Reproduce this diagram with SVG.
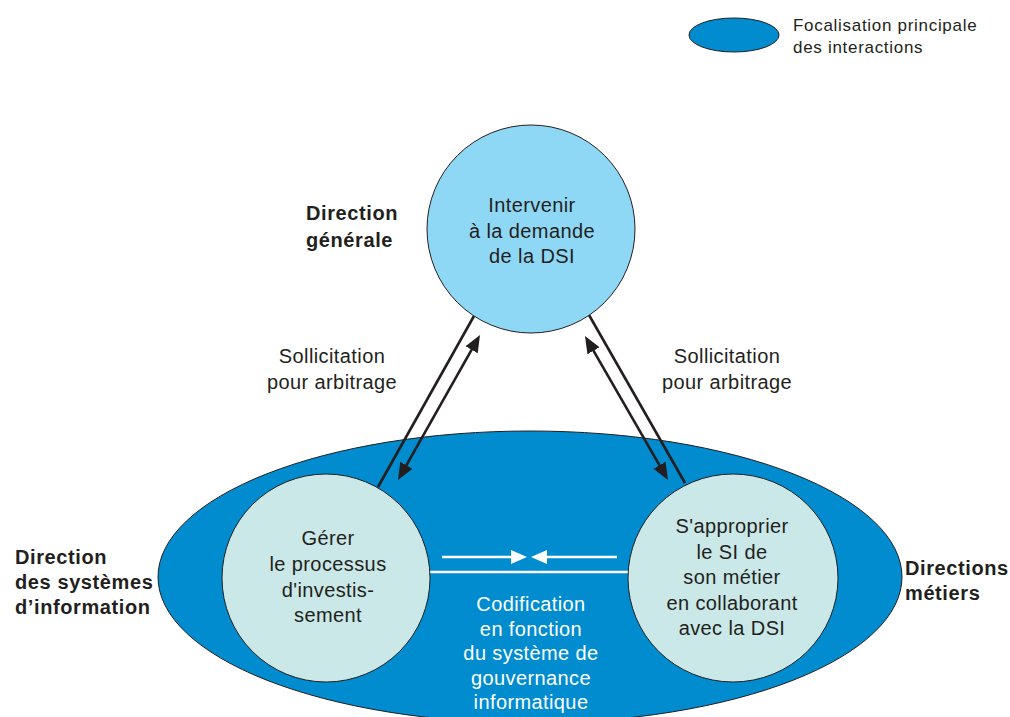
<svg xmlns="http://www.w3.org/2000/svg" width="1010" height="717" viewBox="0 0 1010 717">
  <defs>
    <style>
      .t { font-family: "Liberation Sans", Arial, sans-serif; font-size: 20px; fill: #231f20; letter-spacing: 0.4px; }
      .b { font-family: "Liberation Sans", Arial, sans-serif; font-size: 20px; font-weight: bold; fill: #231f20; letter-spacing: 0.6px; }
      .lg { font-size: 17px; letter-spacing: 0.7px; }
      .w { fill: #ffffff; }
      .c { text-anchor: middle; }
      .focus { fill: #008ccf; stroke: #231f20; stroke-width: 1; }
      .top { fill: #8fd8f5; stroke: #231f20; stroke-width: 1; }
      .inner { fill: #c9e8e7; stroke: #231f20; stroke-width: 1; }
      .dark { stroke: #231f20; stroke-width: 2.6; fill: none; }
      .light { stroke: #ffffff; stroke-width: 2.6; fill: none; }
    </style>
    <marker id="ahDark" markerUnits="userSpaceOnUse" markerWidth="20" markerHeight="16" viewBox="0 -8 20 16" refX="3" refY="0" orient="auto-start-reverse">
      <path d="M0,-7 L17,0 L0,7 z" fill="#231f20"/>
    </marker>
    <marker id="ahLight" markerUnits="userSpaceOnUse" markerWidth="20" markerHeight="16" viewBox="0 -8 20 16" refX="3" refY="0" orient="auto">
      <path d="M0,-7 L16,0 L0,7 z" fill="#ffffff"/>
    </marker>
  </defs>

  <rect width="1010" height="717" fill="#ffffff"/>

  <!-- Legend -->
  <g id="legend">
    <ellipse class="focus" cx="734" cy="35" rx="45" ry="17"/>
    <text class="t lg" x="793" y="31">Focalisation principale</text>
    <text class="t lg" x="793" y="53">des interactions</text>
  </g>

  <!-- Main interaction zone -->
  <g id="zone">
    <ellipse class="focus" cx="530" cy="577" rx="372" ry="146"/>
  </g>

  <!-- Connectors -->
  <g id="connectors">
    <line class="dark" x1="378" y1="487" x2="474" y2="316"/>
    <line class="dark" x1="404.9" y1="467.8" x2="473.1" y2="347.2" marker-start="url(#ahDark)" marker-end="url(#ahDark)"/>
    <line class="dark" x1="589" y1="315" x2="685" y2="483"/>
    <line class="dark" x1="592" y1="348.1" x2="661" y2="467.9" marker-start="url(#ahDark)" marker-end="url(#ahDark)"/>
    <line class="light" x1="442" y1="557" x2="514" y2="557" marker-end="url(#ahLight)"/>
    <line class="light" x1="617" y1="557" x2="544" y2="557" marker-end="url(#ahLight)"/>
    <line class="light" x1="428" y1="572" x2="632" y2="572"/>
  </g>

  <!-- Direction générale -->
  <g id="dg">
    <circle class="top" cx="531" cy="229" r="104"/>
    <text class="t c" x="532" y="212">Intervenir</text>
    <text class="t c" x="532" y="238">à la demande</text>
    <text class="t c" x="532" y="263">de la DSI</text>
  </g>

  <!-- DSI -->
  <g id="dsi">
    <ellipse class="inner" cx="326" cy="578" rx="104" ry="104"/>
    <text class="t c" x="328" y="545">Gérer</text>
    <text class="t c" x="328" y="571">le processus</text>
    <text class="t c" x="328" y="597">d'investis-</text>
    <text class="t c" x="328" y="622">sement</text>
  </g>

  <!-- Directions métiers -->
  <g id="metiers">
    <ellipse class="inner" cx="733" cy="578" rx="105" ry="104"/>
    <text class="t c" x="732" y="533">S'approprier</text>
    <text class="t c" x="732" y="559">le SI de</text>
    <text class="t c" x="732" y="584">son métier</text>
    <text class="t c" x="732" y="610">en collaborant</text>
    <text class="t c" x="732" y="635">avec la DSI</text>
  </g>

  <!-- Shared codification label -->
  <g id="codification">
    <text class="t w c" x="531" y="611">Codification</text>
    <text class="t w c" x="531" y="636">en fonction</text>
    <text class="t w c" x="531" y="660">du système de</text>
    <text class="t w c" x="531" y="685">gouvernance</text>
    <text class="t w c" x="531" y="709">informatique</text>
  </g>

  <!-- Actor labels -->
  <g id="labels">
    <text class="b" x="306" y="220">Direction</text>
    <text class="b" x="306" y="247">générale</text>
    <text class="b" x="15" y="564">Direction</text>
    <text class="b" x="15" y="589">des systèmes</text>
    <text class="b" x="15" y="614">d’information</text>
    <text class="b" x="905" y="575">Directions</text>
    <text class="b" x="905" y="600">métiers</text>
    <text class="t c" x="332" y="363">Sollicitation</text>
    <text class="t c" x="332" y="389">pour arbitrage</text>
    <text class="t c" x="727" y="363">Sollicitation</text>
    <text class="t c" x="727" y="389">pour arbitrage</text>
  </g>
</svg>
